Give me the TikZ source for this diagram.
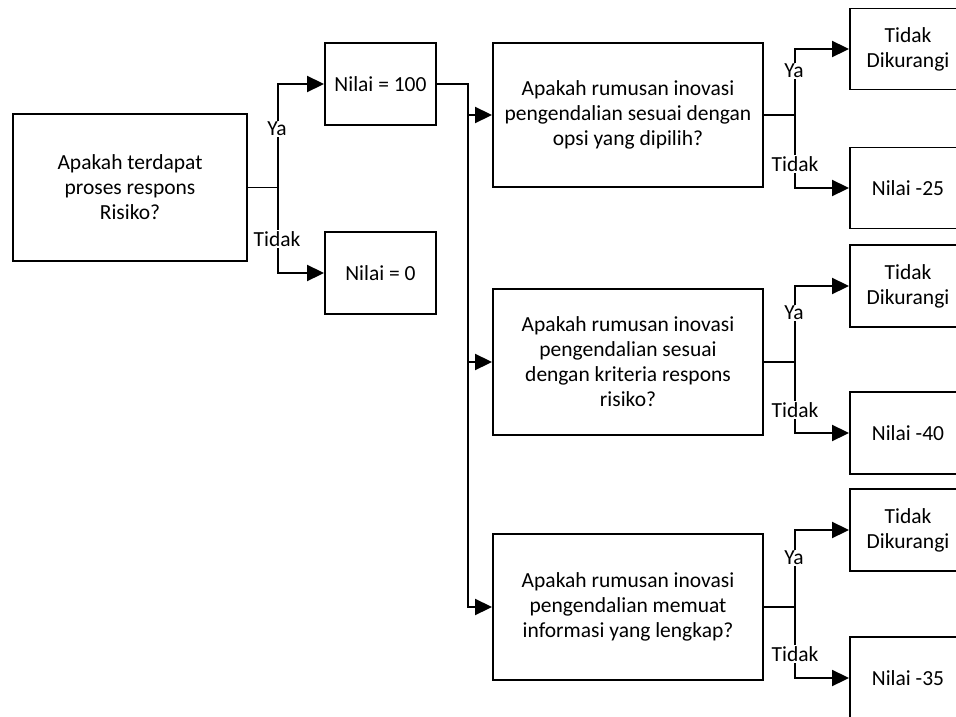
\documentclass[tikz,border=0pt]{standalone}
\usepackage{fontspec}
\setmainfont{Carlito}
\usetikzlibrary{arrows.meta}
\begin{document}
\begin{tikzpicture}[x=1pt,y=-1pt,
  every node/.style={font=\fontsize{21.5}{25}\selectfont},
  box/.style={draw, line width=1.9pt, align=center, inner sep=2pt},
  arr/.style={line width=1.9pt, -{Triangle[length=17pt,width=16pt]}},
  ln/.style={line width=1.9pt},
  lbl/.style={fill=white, inner sep=1.5pt}]
\useasboundingbox (0,0) rectangle (956,717);
\begin{scope}
\clip (0,0) rectangle (956,717);
% nodes
\node[box, minimum width=234pt, minimum height=147pt] (A) at (130,187.5) {Apakah terdapat\\proses respons\\Risiko?};
\node[box, minimum width=111pt, minimum height=82pt] (N100) at (380.5,84) {Nilai = 100};
\node[box, minimum width=111pt, minimum height=82pt] (N0) at (380.5,273) {Nilai = 0};
\node[box, minimum width=270pt, minimum height=144pt] (Q1) at (628,115) {Apakah rumusan inovasi\\pengendalian sesuai dengan\\opsi yang dipilih?};
\node[box, minimum width=270pt, minimum height=146pt] (Q2) at (628,362) {Apakah rumusan inovasi\\pengendalian sesuai\\dengan kriteria respons\\risiko?};
\node[box, minimum width=270pt, minimum height=146pt] (Q3) at (628,607) {Apakah rumusan inovasi\\pengendalian memuat\\informasi yang lengkap?};
\node[box, minimum width=116pt, minimum height=81pt] (T1) at (908,49) {Tidak\\Dikurangi};
\node[box, minimum width=116pt, minimum height=81pt] (R1) at (908,188) {Nilai -25};
\node[box, minimum width=116pt, minimum height=82pt] (T2) at (908,286) {Tidak\\Dikurangi};
\node[box, minimum width=116pt, minimum height=82pt] (R2) at (908,433) {Nilai -40};
\node[box, minimum width=116pt, minimum height=82pt] (T3) at (908,530) {Tidak\\Dikurangi};
\node[box, minimum width=116pt, minimum height=82pt] (R3) at (908,678) {Nilai -35};

% first decision
\draw[ln] (A.east) -- ++(30,0) coordinate (j0);
\draw[arr] (j0) |- (N100.west);
\draw[arr] (j0) |- (N0.west);
\node[lbl] (ya0) at (277,129) {Ya};
\node[lbl] (td0) at (277,239) {Tidak};

% trunk
\draw[ln] (N100.east) -- ++(31,0) coordinate (t) |- ([xshift=-16pt]Q3.west);
\draw[arr] (t |- Q1.west) -- (Q1.west);
\draw[arr] (t |- Q2.west) -- (Q2.west);
\draw[arr] (t |- Q3.west) -- (Q3.west);

% Q1
\draw[ln] (Q1.east) -- ++(31,0) coordinate (j1);
\draw[arr] (j1) |- (T1.west);
\draw[arr] (j1) |- (R1.west);
\node[lbl] (ya1) at (794,71) {Ya};
\node[lbl] (td1) at (795,164) {Tidak};

% Q2
\draw[ln] (Q2.east) -- ++(31,0) coordinate (j2);
\draw[arr] (j2) |- (T2.west);
\draw[arr] (j2) |- (R2.west);
\node[lbl] (ya2) at (794,313) {Ya};
\node[lbl] (td2) at (795,410) {Tidak};

% Q3
\draw[ln] (Q3.east) -- ++(31,0) coordinate (j3);
\draw[arr] (j3) |- (T3.west);
\draw[arr] (j3) |- (R3.west);
\node[lbl] (ya3) at (794,558) {Ya};
\node[lbl] (td3) at (795,654) {Tidak};
\end{scope}
\end{tikzpicture}
\end{document}
